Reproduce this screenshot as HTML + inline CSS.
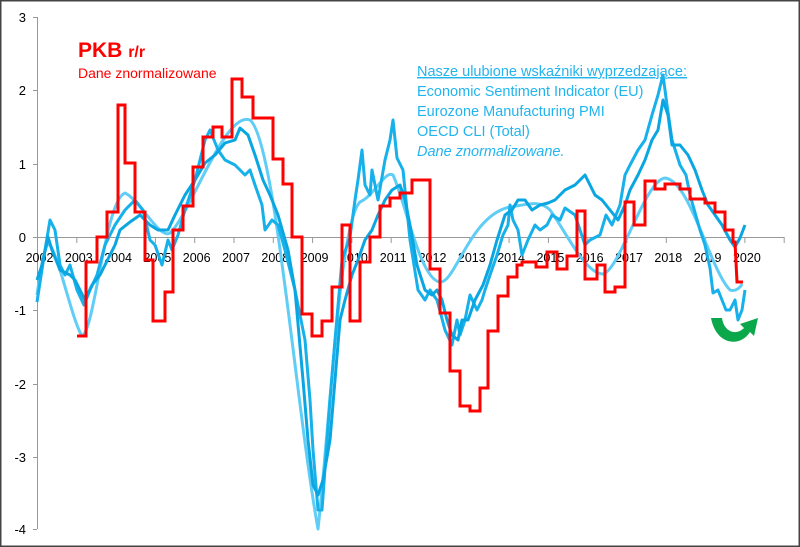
<!DOCTYPE html>
<html><head><meta charset="utf-8"><style>
html,body{margin:0;padding:0;background:#fff}
svg{display:block}
text{font-family:"Liberation Sans","DejaVu Sans",sans-serif}
</style></head><body>
<svg width="800" height="547" viewBox="0 0 800 547">
<rect x="0.5" y="0.5" width="799" height="546" fill="#fff" stroke="#444" stroke-width="2"/>
<g stroke="#999" stroke-width="1">
<line x1="37.5" y1="17" x2="37.5" y2="529"/>
<line x1="33" y1="17.5" x2="37" y2="17.5"/><line x1="33" y1="90.5" x2="37" y2="90.5"/><line x1="33" y1="164.5" x2="37" y2="164.5"/><line x1="33" y1="237.5" x2="37" y2="237.5"/><line x1="33" y1="310.5" x2="37" y2="310.5"/><line x1="33" y1="384.5" x2="37" y2="384.5"/><line x1="33" y1="457.5" x2="37" y2="457.5"/><line x1="33" y1="529.5" x2="37" y2="529.5"/>
<line x1="37" y1="237.5" x2="784" y2="237.5"/>
<g id="ticks"></g>
</g>
<g font-size="13" fill="#000" text-anchor="end">
<text x="26" y="22">3</text><text x="26" y="95">2</text><text x="26" y="169">1</text><text x="26" y="242">0</text><text x="26" y="315">-1</text><text x="26" y="389">-2</text><text x="26" y="462">-3</text><text x="26" y="534">-4</text>
</g>
<g font-size="12.5" fill="#000" text-anchor="middle" id="years"></g>
<script>
(function(){
var t=document.getElementById('ticks'),y=document.getElementById('years'),ns='http://www.w3.org/2000/svg';
for(var k=0;k<20;k++){var x=37.5+k*39.3;
var l=document.createElementNS(ns,'line');l.setAttribute('x1',x);l.setAttribute('x2',x);l.setAttribute('y1',237);l.setAttribute('y2',243);t.appendChild(l);
if(k<19){var s=document.createElementNS(ns,'text');s.setAttribute('x',x+2);s.setAttribute('y',262);s.textContent=2002+k;y.appendChild(s);}}
})();
</script>
<path fill="none" stroke="#5fcdf5" stroke-width="3" stroke-linejoin="round" d="M37,295 C42,260 46,240 50,245 C60,260 72,320 82,336 C95,330 105,200 125,193 C140,200 160,240 170,233 C190,215 225,110 250,120 C275,140 295,400 318,529 C330,420 340,220 360,202 C375,195 385,170 393,175 C405,200 420,280 440,282 C455,284 470,215 510,207 C530,204 540,200 550,210 C565,230 585,274 603,274 C620,270 645,180 665,178 C690,180 710,270 730,290 C735,292 740,288 742,284"/>
<polyline fill="none" stroke="#16b0ea" stroke-width="3" stroke-linejoin="round" points="37,302 45,250 50,220 55,230 60,265 65,275 70,265 77,290 84,305 90,290 97,275 105,245 115,225 125,210 135,200 143,210 150,240 155,245 162,265 168,240 172,250 178,235 185,210 195,180 205,140 210,130 218,150 225,160 235,165 245,175 250,170 255,185 262,205 265,230 272,220 278,225 285,250 295,290 305,340 310,400 313,450 318,510 322,510 330,400 335,340 342,260 350,237 355,200 358,180 362,150 365,185 370,195 372,170 378,200 385,160 390,140 393,120 397,158 403,170 410,240 418,290 425,300 430,290 437,300 445,330 452,345 457,320 460,335 465,320 470,295 477,310 482,300 485,290 490,275 497,255 503,235 508,225 510,205 513,220 518,230 522,255 528,240 535,225 540,230 547,225 552,215 560,220 565,208 575,215 580,230 585,245 590,240 600,235 606,215 612,225 620,205 625,175 630,165 638,150 645,140 652,115 658,95 663,75 667,105 672,140 680,165 686,175 690,195 700,230 705,245 710,268 713,293 718,290 722,300 726,310 730,310 735,300 738,320 742,310 745,290"/>
<polyline fill="none" stroke="#0aa6e2" stroke-width="3" stroke-linejoin="round" points="37,280 42,265 48,237 52,250 60,270 70,275 75,280 80,290 85,300 92,285 100,275 110,255 115,245 120,230 130,222 140,215 150,225 158,230 168,230 175,215 185,195 195,180 205,163 215,155 225,143 235,140 240,128 248,135 255,155 263,180 270,195 278,215 288,250 295,290 303,380 308,440 313,485 318,495 323,480 330,440 335,380 340,320 345,300 352,275 358,260 365,240 372,230 378,215 385,200 392,190 400,185 405,200 410,225 417,265 425,290 432,295 437,290 442,300 447,320 452,335 458,340 462,320 468,320 475,300 483,285 490,265 497,240 505,215 512,210 518,200 525,200 532,210 540,205 548,203 555,200 560,195 565,190 575,185 580,180 585,175 595,195 602,200 610,210 618,220 625,205 630,190 638,175 645,160 652,140 658,130 663,100 668,115 672,145 680,145 688,155 695,170 702,190 708,205 715,215 722,225 730,240 735,247 740,238 745,225"/>
<polyline fill="none" stroke="#ff0000" stroke-width="3" stroke-linejoin="miter" points="77,336 86,336 86,262 97,262 97,237 107,237 107,212 118,212 118,105 125,105 125,163 135,163 135,212 145,212 145,260 153,260 153,321 165,321 165,292 173,292 173,230 183,230 183,206 193,206 193,167 203,167 203,137 213,137 213,127 222,127 222,137 232,137 232,79 242,79 242,97 253,97 253,118 273,118 273,159 283,159 283,184 292,184 292,237 302,237 302,314 312,314 312,336 322,336 322,321 332,321 332,287 342,287 342,225 350,225 350,321 360,321 360,262 370,262 370,237 380,237 380,206 390,206 390,198 400,198 400,193 412,193 412,180 422,180 422,180 430,180 430,269 440,269 440,313 450,313 450,371 460,371 460,406 470,406 470,411 480,411 480,388 488,388 488,331 498,331 498,296 508,296 508,277 517,277 517,265 522,265 522,262 536,262 536,267 547,267 547,252 557,252 557,269 567,269 567,256 577,256 577,211 585,211 585,279 597,279 597,265 605,265 605,292 615,292 615,287 625,287 625,202 634,202 634,225 645,225 645,181 655,181 655,189 665,189 665,184 680,184 680,189 690,189 690,199 705,199 705,203 715,203 715,212 725,212 725,230 733,230 733,242 735,242 737,282 743,282"/>
<path d="M711,318 L722,318 C724,332 736,336 744,328 L740,324 L758,318 L754,336 L750,332 C740,348 716,345 711,318 Z" fill="#0aa84a"/>
<text x="78" y="57" font-size="21" font-weight="bold" fill="#ff0000">PKB <tspan font-size="16">r/r</tspan></text>
<text x="78" y="78" font-size="14" fill="#ff0000">Dane znormalizowane</text>
<g font-size="14.5" fill="#22b4ee">
<text x="417" y="76" text-decoration="underline">Nasze ulubione wskaźniki wyprzedzające:</text>
<text x="417" y="96">Economic Sentiment Indicator (EU)</text>
<text x="417" y="116">Eurozone Manufacturing PMI</text>
<text x="417" y="136">OECD CLI (Total)</text>
<text x="417" y="156" font-style="italic">Dane znormalizowane.</text>
</g>
</svg>
</body></html>
